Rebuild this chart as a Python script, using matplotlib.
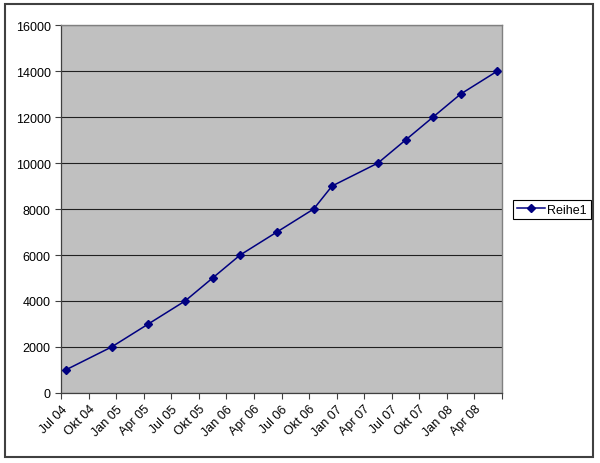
import matplotlib.pyplot as plt
from matplotlib.patches import Rectangle

plt.rcParams['font.family'] = ['Liberation Sans', 'DejaVu Sans']

# data (month of each point, value)
months = ['2004-07', '2004-12', '2005-04', '2005-08', '2005-11', '2006-02', '2006-06',
          '2006-10', '2006-12', '2007-05', '2007-08', '2007-11', '2008-02', '2008-06']
values = [1000, 2000, 3000, 4000, 5000, 6000, 7000,
          8000, 9000, 10000, 11000, 12000, 13000, 14000]
monthNames = ['Jan', 'Feb', 'Mär', 'Apr', 'Mai', 'Jun',
              'Jul', 'Aug', 'Sep', 'Okt', 'Nov', 'Dez']
seriesName = 'Reihe1'

startYear, startMonth = 2004, 7
nMonths = 48

def monthIndex(s):
    y, m = s.split('-')
    return (int(y) - startYear) * 12 + (int(m) - startMonth)

x = [monthIndex(m) + 0.5 for m in months]

fig = plt.figure(figsize=(6.0, 4.64), dpi=100)
ax = fig.add_axes([0.1017, 0.1509, 0.735, 0.793])
ax.set_facecolor('#C0C0C0')

ax.plot(x, values, color='#000080', lw=1.1, marker='D', ms=4.5, label=seriesName)

ax.set_xlim(0, nMonths)
ax.set_ylim(0, 16000)
ax.set_yticks(range(0, 16001, 2000))

ticks = list(range(0, nMonths + 1, 3))
labels = []
for t in ticks:
    mm = (startMonth - 1 + t) % 12
    yy = startYear + (startMonth - 1 + t) // 12
    labels.append(f"{monthNames[mm]} {yy % 100:02d}" if t < nMonths else '')
ax.set_xticks(ticks)
ax.set_xticklabels(labels, rotation=45, ha='right', rotation_mode='anchor')

ax.tick_params(axis='both', direction='out', length=4, width=0.8, colors='#404040',
               labelsize=9, labelcolor='black')
ax.tick_params(axis='x', pad=3)

ax.grid(axis='y', color='#202020', lw=0.8)
ax.set_axisbelow(True)
for side in ['top', 'right']:
    ax.spines[side].set_color('#808080')
    ax.spines[side].set_linewidth(1.0)
for side in ['left', 'bottom']:
    ax.spines[side].set_color('#404040')
    ax.spines[side].set_linewidth(0.9)

leg = ax.legend(loc='center', bbox_to_anchor=(0.92, 0.546), bbox_transform=fig.transFigure,
                fancybox=False, framealpha=1, edgecolor='black', fontsize=9,
                handlelength=2.2, borderpad=0.3, handletextpad=0.2, borderaxespad=0)
leg.get_frame().set_linewidth(0.8)

fig.patches.append(Rectangle((0.0083, 0.0129), 0.98, 0.976, transform=fig.transFigure,
                             fill=False, edgecolor='#404040', lw=1.5))

fig.savefig('out.png', dpi=100)
